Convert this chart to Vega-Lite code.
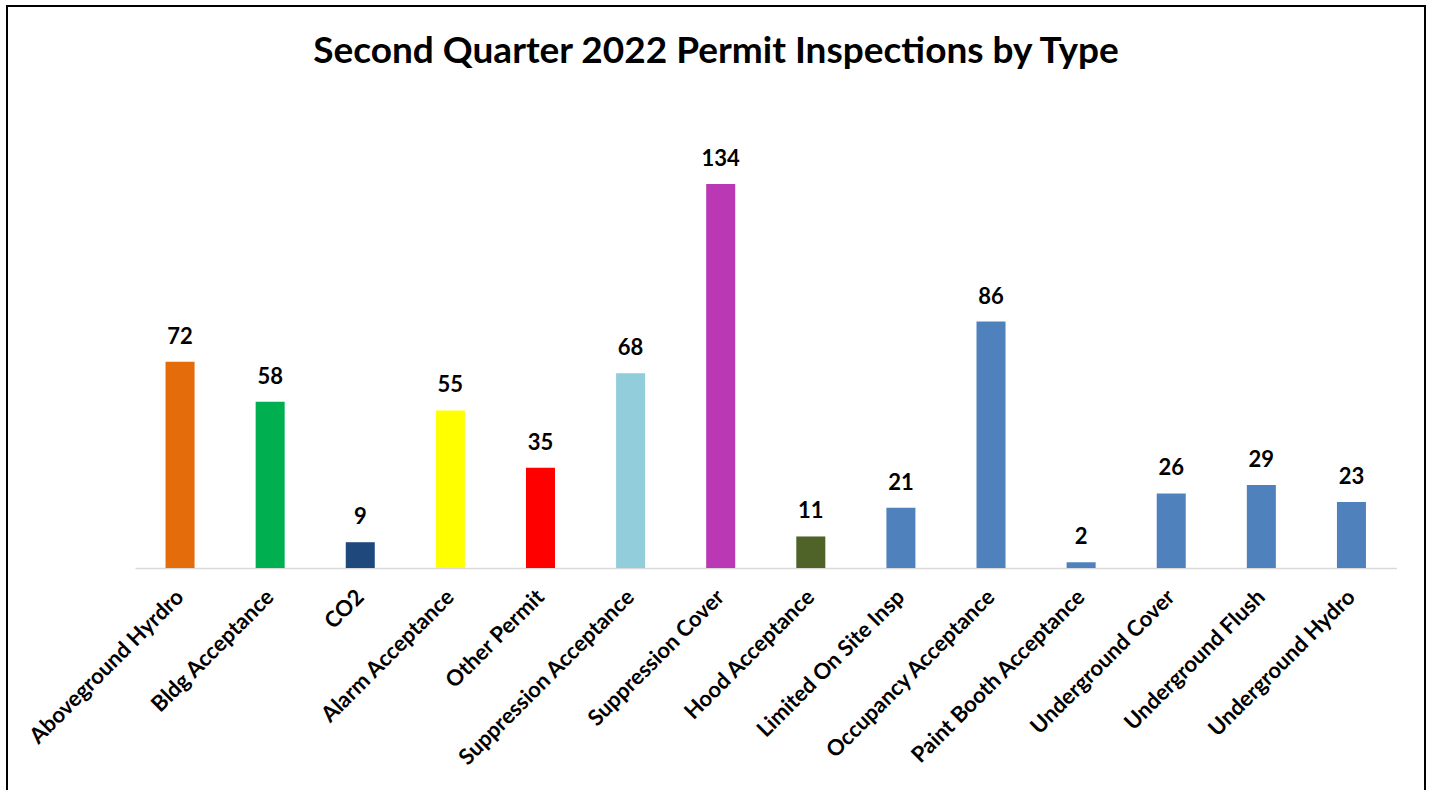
{
  "$schema": "https://vega.github.io/schema/vega-lite/v6.json",
  "width": 1418,
  "height": 786,
  "autosize": "none",
  "padding": {"left": 7, "top": 6, "right": 7, "bottom": 0},
  "background": "white",
  "config": {"view": {"stroke": "black", "strokeWidth": 2}},
  "title": {
    "text": "Second Quarter 2022 Permit Inspections by Type",
    "font": "Lato",
    "fontSize": 37,
    "fontWeight": "bold",
    "color": "black",
    "anchor": "middle",
    "baseline": "alphabetic",
    "offset": 0,
    "dy": 94
  },
  "data": {
    "values": [
      {"type": "Aboveground Hyrdro", "count": 72},
      {"type": "Bldg Acceptance", "count": 58},
      {"type": "CO2", "count": 9},
      {"type": "Alarm Acceptance", "count": 55},
      {"type": "Other Permit", "count": 35},
      {"type": "Suppression Acceptance", "count": 68},
      {"type": "Suppression Cover", "count": 134},
      {"type": "Hood Acceptance", "count": 11},
      {"type": "Limited On Site Insp", "count": 21},
      {"type": "Occupancy Acceptance", "count": 86},
      {"type": "Paint Booth Acceptance", "count": 2},
      {"type": "Underground Cover", "count": 26},
      {"type": "Underground Flush", "count": 29},
      {"type": "Underground Hydro", "count": 23}
    ]
  },
  "encoding": {
    "x": {
      "field": "type",
      "type": "nominal",
      "sort": null,
      "scale": {"range": [128, 1389.5], "paddingInner": 0.678, "paddingOuter": 0.339},
      "axis": {
        "title": null,
        "orient": "bottom",
        "offset": -224,
        "domainColor": "#d9d9d9",
        "domainWidth": 1.5,
        "ticks": false,
        "labelAngle": -45,
        "labelAlign": "right",
        "labelBaseline": "middle",
        "labelFont": "Lato",
        "labelFontSize": 22,
        "labelFontWeight": "bold",
        "labelColor": "black",
        "labelPadding": 25,
        "labelLimit": 400
      }
    },
    "y": {
      "field": "count",
      "type": "quantitative",
      "scale": {"domain": [0, 134], "range": [562, 178], "nice": false, "zero": true},
      "axis": null
    }
  },
  "layer": [
    {
      "mark": {"type": "bar"},
      "encoding": {
        "color": {
          "field": "type",
          "type": "nominal",
          "legend": null,
          "scale": {
            "domain": ["Aboveground Hyrdro", "Bldg Acceptance", "CO2", "Alarm Acceptance", "Other Permit", "Suppression Acceptance", "Suppression Cover", "Hood Acceptance", "Limited On Site Insp", "Occupancy Acceptance", "Paint Booth Acceptance", "Underground Cover", "Underground Flush", "Underground Hydro"],
            "range": ["#E46C0A", "#00B050", "#1F497D", "#FFFF00", "#FF0000", "#92CDDC", "#BB38B4", "#4F6228", "#4F81BD", "#4F81BD", "#4F81BD", "#4F81BD", "#4F81BD", "#4F81BD"]
          }
        }
      }
    },
    {
      "mark": {"type": "text", "font": "Lato", "fontSize": 22, "fontWeight": "bold", "color": "black", "baseline": "alphabetic", "dy": -18},
      "encoding": {"text": {"field": "count", "type": "quantitative"}}
    }
  ]
}
